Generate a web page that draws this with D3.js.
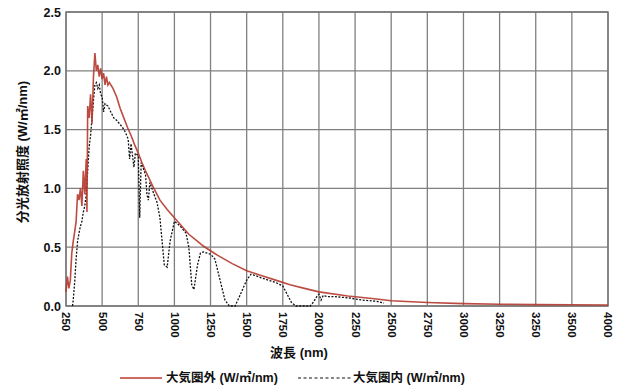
<!DOCTYPE html>
<meta charset="utf-8" />
<script src="https://d3js.org/d3.v7.min.js"></script>
<style>
  body { margin: 0; background: #fff; }
  text { font-family: "Liberation Sans", "Noto Sans CJK JP", sans-serif; font-weight: bold; fill: #111; }
</style>
<div id="chart"></div>
<script>
  // Extraterrestrial spectrum (wavelength nm, W/m2/nm)
  const outerWave = [250, 260, 270, 280, 290, 300, 310, 320, 330, 340, 350, 360, 370, 380, 390, 395,
    400, 410, 420, 430, 440, 450, 460, 470, 480, 490, 500, 510, 520, 530, 540, 550, 575, 600, 625,
    650, 675, 700, 725, 750, 775, 800, 850, 900, 950, 1000, 1050, 1100, 1150, 1200, 1250, 1300,
    1400, 1500, 1600, 1700, 1800, 1900, 2000, 2200, 2400, 2500, 2750, 3000, 3250, 3500, 3750, 4000];
  const outerValue = [0.12, 0.25, 0.15, 0.22, 0.45, 0.55, 0.63, 0.72, 0.95, 0.9, 1.0, 0.85, 1.15, 0.95, 1.25, 0.8,
    1.7, 1.6, 1.8, 1.55, 1.95, 2.15, 2.0, 2.05, 1.95, 2.02, 1.93, 1.98, 1.88, 1.95, 1.88, 1.9, 1.85, 1.78, 1.68,
    1.6, 1.52, 1.45, 1.37, 1.3, 1.22, 1.15, 1.02, 0.9, 0.82, 0.75, 0.68, 0.61, 0.56, 0.51, 0.47, 0.43,
    0.36, 0.3, 0.26, 0.22, 0.18, 0.15, 0.12, 0.085, 0.06, 0.045, 0.03, 0.02, 0.015, 0.012, 0.01, 0.008];

  // Ground level spectrum
  const innerWave = [295, 300, 310, 320, 330, 340, 350, 360, 370, 380, 390, 400, 410, 420, 430, 440, 450,
    460, 470, 480, 490, 500, 510, 520, 540, 560, 580, 600, 620, 640, 660, 680, 690, 700, 720, 730, 750,
    760, 770, 800, 810, 820, 830, 850, 880, 900, 930, 950, 970, 1000, 1040, 1080, 1100, 1120, 1135, 1160,
    1180, 1200, 1250, 1280, 1320, 1350, 1380, 1420, 1450, 1500, 1530, 1560, 1600, 1650, 1700, 1750, 1780,
    1810, 1840, 1940, 1960, 1985, 2000, 2015, 2030, 2060, 2100, 2200, 2300, 2400, 2450];
  const innerValue = [0, 0.05, 0.2, 0.4, 0.55, 0.62, 0.68, 0.72, 0.8, 0.85, 0.95, 1.15, 1.35, 1.45, 1.6, 1.75, 1.88,
    1.9, 1.85, 1.88, 1.8, 1.78, 1.65, 1.72, 1.7, 1.65, 1.6, 1.58, 1.55, 1.52, 1.48, 1.42, 1.25, 1.38, 1.18, 1.3, 1.28,
    0.75, 1.22, 1.12, 0.95, 0.9, 1.05, 0.98, 0.88, 0.75, 0.35, 0.33, 0.55, 0.72, 0.68, 0.62, 0.5, 0.18, 0.14, 0.35,
    0.45, 0.46, 0.44, 0.4, 0.2, 0.05, 0, 0, 0.08, 0.22, 0.27, 0.26, 0.24, 0.22, 0.2, 0.17, 0.1,
    0.03, 0, 0, 0.03, 0.08, 0.1, 0.05, 0.09, 0.08, 0.08, 0.07, 0.05, 0.04, 0.025];

  const xTicks = d3.range(250, 4001, 250);
  const xTickLabels = ["250", "500", "750", "1000", "1250", "1500", "1750", "2000", "2250", "2500",
    "2750", "3000", "3250", "3250", "3500", "4000"];
  const yTicks = [0, 0.5, 1.0, 1.5, 2.0, 2.5];

  const margin = { top: 12, right: 14, bottom: 82, left: 66 },
    width = 622 - margin.left - margin.right,
    height = 388 - margin.top - margin.bottom;

  const svg = d3
    .select("#chart")
    .append("svg")
    .attr("width", 622)
    .attr("height", 388);

  const g = svg.append("g").attr("transform", `translate(${margin.left},${margin.top})`);

  const x = d3.scaleLinear().domain([250, 4000]).range([0, width]);
  const y = d3.scaleLinear().domain([0, 2.5]).range([height, 0]);

  // grid
  g.append("g")
    .selectAll("line")
    .data(xTicks)
    .join("line")
    .attr("x1", (d) => x(d))
    .attr("x2", (d) => x(d))
    .attr("y1", 0)
    .attr("y2", height)
    .attr("stroke", "#808080")
    .attr("stroke-width", 1.3);

  g.append("g")
    .selectAll("line")
    .data(yTicks)
    .join("line")
    .attr("x1", 0)
    .attr("x2", width)
    .attr("y1", (d) => y(d))
    .attr("y2", (d) => y(d))
    .attr("stroke", "#808080")
    .attr("stroke-width", 1.3);

  g.append("rect")
    .attr("width", width)
    .attr("height", height)
    .attr("fill", "none")
    .attr("stroke", "#7a7a7a")
    .attr("stroke-width", 1.5);

  // axes
  const xAxis = g
    .append("g")
    .attr("transform", `translate(0,${height})`)
    .call(d3.axisBottom(x).tickValues(xTicks).tickSize(0).tickFormat((d, i) => xTickLabels[i]));
  xAxis.select(".domain").remove();
  xAxis
    .selectAll("text")
    .attr("transform", "rotate(90)")
    .attr("x", 6)
    .attr("y", 0)
    .attr("dy", "0.35em")
    .style("text-anchor", "start")
    .style("font-size", "11.5px");

  const yAxis = g
    .append("g")
    .call(d3.axisLeft(y).tickValues(yTicks).tickSize(0).tickPadding(5).tickFormat(d3.format(".1f")));
  yAxis.select(".domain").remove();
  yAxis.selectAll("text").style("font-size", "12.5px");

  // lines
  const line = d3
    .line()
    .x((d) => x(d[0]))
    .y((d) => y(d[1]));

  g.append("path")
    .datum(innerWave.map((w, i) => [w, innerValue[i]]))
    .attr("fill", "none")
    .attr("stroke", "#111")
    .attr("stroke-width", 1.3)
    .attr("stroke-dasharray", "2,1.5")
    .attr("d", line);

  g.append("path")
    .datum(outerWave.map((w, i) => [w, outerValue[i]]))
    .attr("fill", "none")
    .attr("stroke", "#b5392c")
    .attr("stroke-width", 1.6)
    .attr("stroke-opacity", 0.9)
    .attr("d", line);

  // titles
  svg
    .append("text")
    .attr("transform", "rotate(-90)")
    .attr("x", -152)
    .attr("y", 27)
    .style("text-anchor", "middle")
    .style("font-size", "13px")
    .text("分光放射照度 (W/㎡/nm)");

  svg
    .append("text")
    .attr("x", 299)
    .attr("y", 357)
    .style("text-anchor", "middle")
    .style("font-size", "13px")
    .text("波長 (nm)");

  // legend
  const legend = svg.append("g").style("font-size", "12.5px");
  legend.append("line")
    .attr("x1", 120).attr("x2", 162).attr("y1", 378).attr("y2", 378)
    .attr("stroke", "#c0392b").attr("stroke-width", 1.5);
  legend.append("text").attr("x", 166).attr("y", 382).text("大気圏外 (W/㎡/nm)");
  legend.append("line")
    .attr("x1", 298).attr("x2", 352).attr("y1", 378).attr("y2", 378)
    .attr("stroke", "#111").attr("stroke-width", 1.2).attr("stroke-dasharray", "3,2.5");
  legend.append("text").attr("x", 353).attr("y", 382).text("大気圏内 (W/㎡/nm)");
</script>
